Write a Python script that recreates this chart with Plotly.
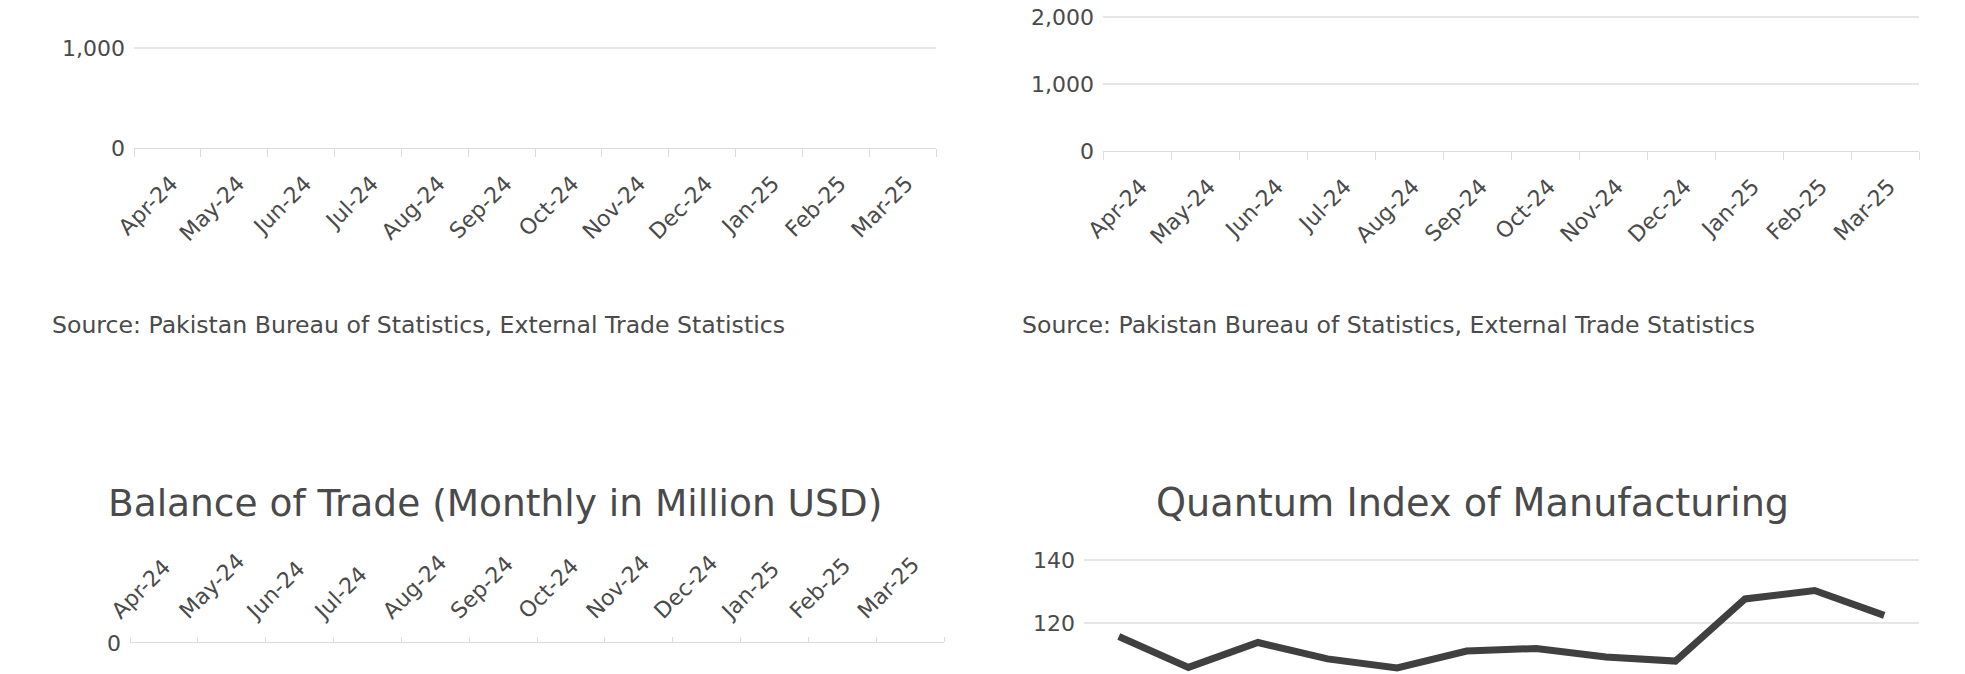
import plotly.graph_objects as go

W, H = 1965, 674

# Data
months = ["Apr-24", "May-24", "Jun-24", "Jul-24", "Aug-24", "Sep-24",
          "Oct-24", "Nov-24", "Dec-24", "Jan-25", "Feb-25", "Mar-25"]
# bar charts in the screenshot show no bars (nothing rendered)
exports_musd = [None, None, None, None, None, None, None, None, None, None, None, None]
imports_musd = [None, None, None, None, None, None, None, None, None, None, None, None]
balance_musd = [None, None, None, None, None, None, None, None, None, None, None, None]
qim_index = [115.7, 105.9, 113.8, 108.6, 105.7, 111.1, 111.9, 109.2, 107.9, 127.6, 130.3, 122.4]

source_text = "Source: Pakistan Bureau of Statistics, External Trade Statistics"
title_bot = "Balance of Trade (Monthly in Million USD)"
title_qim = "Quantum Index of Manufacturing"

FONT = "DejaVu Sans"
WEIGHT = 400
TXT = "#4a4a4a"
GRID = "#e6e6e6"


def fx(px):
    return px / W


def fy(py):
    return 1 - py / H


fig = go.Figure()
fig.add_trace(go.Bar(x=months, y=exports_musd, xaxis="x", yaxis="y", marker_color="#404040"))
fig.add_trace(go.Bar(x=months, y=imports_musd, xaxis="x2", yaxis="y2", marker_color="#404040"))
fig.add_trace(go.Bar(x=months, y=balance_musd, xaxis="x3", yaxis="y3", marker_color="#404040"))
fig.add_trace(go.Scatter(x=months, y=qim_index, xaxis="x4", yaxis="y4", mode="lines",
                         line=dict(color="#404040", width=7)))

tickfont = dict(family=FONT, size=22, color=TXT, weight=WEIGHT)

cat_axis = dict(type="category", tickson="boundaries", ticks="outside", ticklen=8,
                tickcolor="#dcdcdc", showline=True, linecolor="#dcdcdc", showgrid=False,
                tickangle=-45, tickfont=tickfont, range=[-0.5, 11.5], fixedrange=True,
                automargin=False, ticklabelstandoff=13, ticklabelshift=4)
val_axis = dict(showgrid=True, gridcolor=GRID, gridwidth=1.5, zeroline=False, ticks="",
                tickformat=",", tickfont=tickfont, ticklabelstandoff=8, fixedrange=True,
                automargin=False)

fig.update_layout(
    width=W, height=H, autosize=False,
    margin=dict(l=0, r=0, t=0, b=0),
    paper_bgcolor="white", plot_bgcolor="white",
    showlegend=False,
    font=dict(family=FONT, color=TXT),
    xaxis=dict(cat_axis, domain=[fx(134), fx(936)], anchor="y"),
    yaxis=dict(val_axis, domain=[fy(148), 1], range=[0, 1483], dtick=1000, anchor="x"),
    xaxis2=dict(cat_axis, domain=[fx(1103), fx(1919)], anchor="y2"),
    yaxis2=dict(val_axis, domain=[fy(151), 1], range=[0, 2258], dtick=1000, anchor="x2"),
    xaxis3=dict(cat_axis, domain=[fx(130), fx(944)], anchor="y3", side="top",
                ticklen=5, ticklabelstandoff=10, ticklabelshift=-51),
    yaxis3=dict(val_axis, domain=[0, fy(643)], range=[-300, 0], dtick=1000, anchor="x3"),
    xaxis4=dict(type="category", domain=[fx(1084), fx(1919)], anchor="y4", range=[-0.5, 11.5],
                showticklabels=False, showline=False, showgrid=False, ticks="", automargin=False),
    yaxis4=dict(val_axis, domain=[0, fy(540)], range=[103.8, 146.3], dtick=20, anchor="x4"),
)

for sx in (50, 1020):
    fig.add_annotation(text=source_text, x=fx(sx), y=fy(325), xref="paper", yref="paper",
                       xanchor="left", yanchor="middle", showarrow=False,
                       font=dict(family=FONT, size=23.6, color=TXT, weight=WEIGHT))
fig.add_annotation(text=title_bot, x=fx(495), y=fy(503), xref="paper", yref="paper",
                   xanchor="center", yanchor="middle", showarrow=False,
                   font=dict(family=FONT, size=37.5, color=TXT, weight=WEIGHT))
fig.add_annotation(text=title_qim, x=fx(1472), y=fy(503), xref="paper", yref="paper",
                   xanchor="center", yanchor="middle", showarrow=False,
                   font=dict(family=FONT, size=38.2, color=TXT, weight=WEIGHT))

fig.write_html("out.html", config={"displayModeBar": False},
               post_script="document.body.style.margin='0';document.body.style.overflow='hidden';")
